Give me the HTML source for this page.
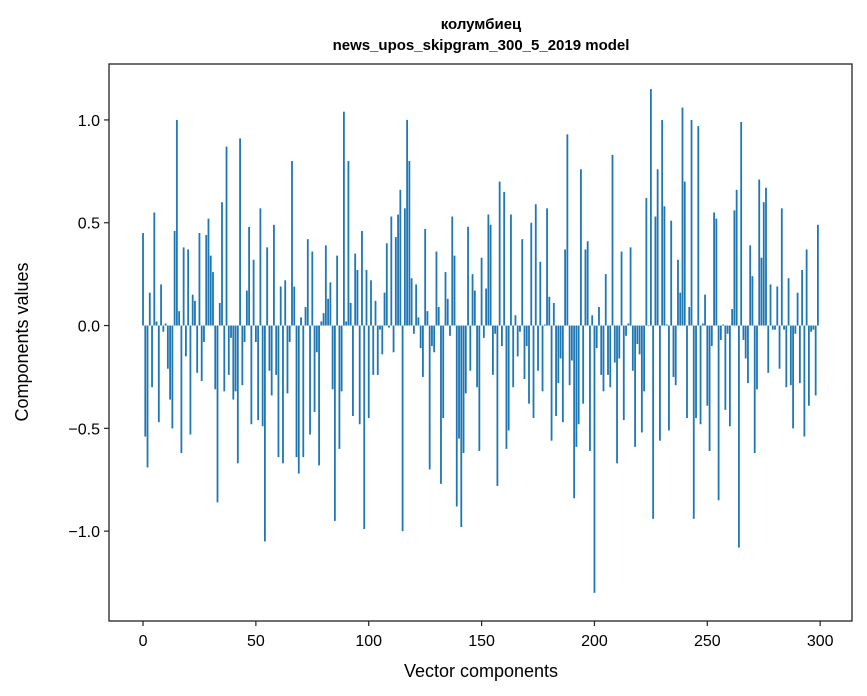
<!DOCTYPE html>
<html><head><meta charset="utf-8"><style>
body{margin:0;background:#fff;}
svg{display:block;font-family:"Liberation Sans","DejaVu Sans",sans-serif;}
</style></head><body>
<svg id="chart" width="867" height="696" viewBox="0 0 867 696" xmlns="http://www.w3.org/2000/svg">
<rect width="867" height="696" fill="#fff"/>
<text x="481" y="29" text-anchor="middle" font-size="15" font-weight="bold" fill="#000">колумбиец</text>
<text x="481" y="50" text-anchor="middle" font-size="15" font-weight="bold" fill="#000">news_upos_skipgram_300_5_2019 model</text>
<g id="bars"></g>
<g id="xticks"></g>
<g id="yticks"></g>
<rect x="109" y="64" width="743" height="557" fill="none" stroke="#222" stroke-width="1.3"/>
<text x="481" y="677" text-anchor="middle" font-size="18" fill="#000">Vector components</text>
<text transform="translate(28,342) rotate(-90)" text-anchor="middle" font-size="18" fill="#000">Components values</text>
</svg>
<script>
const values = [
0.45,-0.54,-0.69,0.16,-0.30,0.55,0.02,-0.47,0.20,-0.03,
0.01,-0.21,-0.36,-0.50,0.46,1.00,0.07,-0.62,0.38,-0.15,
0.37,-0.53,0.15,0.12,-0.23,0.45,-0.27,-0.08,0.44,0.52,
0.34,0.26,-0.31,-0.86,0.11,0.60,-0.32,0.87,-0.24,-0.06,
-0.36,-0.32,-0.67,0.91,-0.29,-0.08,0.17,0.48,-0.48,0.32,
-0.08,-0.46,0.57,-0.49,-1.05,0.38,-0.22,-0.34,0.49,-0.24,
-0.64,0.19,-0.67,0.22,-0.33,-0.08,0.80,0.19,-0.64,-0.72,
0.04,-0.64,0.09,0.42,-0.53,0.36,-0.42,-0.13,-0.68,0.02,
0.06,0.39,0.13,0.21,-0.31,-0.95,0.34,-0.60,-0.32,1.04,
0.02,0.80,0.11,-0.44,0.35,0.27,-0.48,0.46,-0.99,0.27,
-0.45,0.22,-0.24,0.12,-0.24,-0.02,-0.14,0.16,0.40,-0.01,
0.53,-0.13,0.43,0.54,0.66,-1.00,0.57,1.00,0.80,0.23,
-0.04,0.20,0.04,-0.11,-0.25,0.47,0.07,-0.70,-0.10,-0.13,
0.36,0.09,-0.77,-0.45,0.26,0.13,-0.05,0.53,0.34,-0.88,
-0.55,-0.98,-0.62,-0.33,0.48,-0.22,0.25,0.17,-0.30,-0.61,
0.33,-0.06,0.18,0.54,0.49,-0.24,-0.04,-0.78,0.70,-0.10,
0.65,-0.60,-0.51,0.54,-0.30,0.05,-0.15,-0.03,0.42,-0.26,
-0.10,-0.38,0.50,-0.45,0.59,-0.22,0.31,-0.32,0.005,0.57,
0.14,-0.56,0.11,-0.44,-0.28,-0.16,-0.47,0.37,0.93,-0.29,
-0.17,-0.84,-0.59,-0.48,0.76,-0.38,0.37,0.41,-0.61,0.05,
-1.30,-0.11,0.09,-0.24,-0.32,0.25,-0.24,-0.30,0.83,-0.18,
-0.67,-0.16,0.36,-0.46,-0.05,0.01,0.38,-0.22,-0.59,-0.09,
-0.14,-0.52,-0.32,0.62,-0.003,1.15,-0.94,0.53,0.76,-0.56,
1.00,0.58,0.005,-0.51,0.51,-0.25,-0.29,0.32,0.16,1.06,
0.70,-0.45,0.09,1.00,-0.94,-0.45,0.97,-0.48,0.01,0.15,
-0.39,-0.61,-0.10,0.55,0.52,-0.85,-0.07,0.005,-0.41,-0.04,
-0.49,0.08,0.56,0.66,-1.08,0.99,-0.07,-0.16,-0.28,0.39,
0.24,-0.62,-0.31,0.71,0.33,0.60,0.67,-0.23,0.20,-0.02,
-0.02,0.19,-0.21,0.57,-0.02,-0.30,0.23,-0.29,-0.50,-0.04,
0.16,-0.28,0.27,-0.54,0.37,-0.39,-0.03,-0.02,-0.34,0.49
];
const xTickValues = [0,50,100,150,200,250,300];
const xTickLabels = ["0","50","100","150","200","250","300"];
const yTickValues = [-1.0,-0.5,0.0,0.5,1.0];
const yTickLabels = ["\u22121.0","\u22120.5","0.0","0.5","1.0"];

const NS="http://www.w3.org/2000/svg";
const X0=109,X1=852,Y0=64,Y1=621;
const xmin=-15.07,xmax=314.1,ymin=-1.437,ymax=1.272;
function xs(v){return X0+(v-xmin)/(xmax-xmin)*(X1-X0);}
function ys(v){return Y1-(v-ymin)/(ymax-ymin)*(Y1-Y0);}
function mk(t,a){const e=document.createElementNS(NS,t);for(const k in a)e.setAttribute(k,a[k]);return e;}
const bars=document.getElementById('bars');
values.forEach((v,i)=>{
  const x=xs(i-0.4),w=xs(i+0.4)-x;
  const y=Math.min(ys(v),ys(0)),h=Math.abs(ys(v)-ys(0));
  const r=mk('rect',{x:x,y:y,width:w,height:Math.max(h,0.3),fill:'#1f77b4'});
  
  
  bars.appendChild(r);
});
const xg=document.getElementById('xticks');
xTickValues.forEach((v,i)=>{
  const x=xs(v);
  const l=mk('line',{x1:x,x2:x,y1:Y1,y2:Y1+5,stroke:'#222','stroke-width':1.2});
  
  
  xg.appendChild(l);
  const t=mk('text',{x:x,y:Y1+25,'text-anchor':'middle','font-size':16,fill:'#000'});
  t.textContent=xTickLabels[i];
  
  
  xg.appendChild(t);
});
const yg=document.getElementById('yticks');
yTickValues.forEach((v,i)=>{
  const y=ys(v);
  const l=mk('line',{x1:X0-5,x2:X0,y1:y,y2:y,stroke:'#222','stroke-width':1.2});
  
  
  yg.appendChild(l);
  const t=mk('text',{x:X0-9,y:y+6,'text-anchor':'end','font-size':16,fill:'#000'});
  t.textContent=yTickLabels[i];
  
  
  yg.appendChild(t);
});
</script>
</body></html>
